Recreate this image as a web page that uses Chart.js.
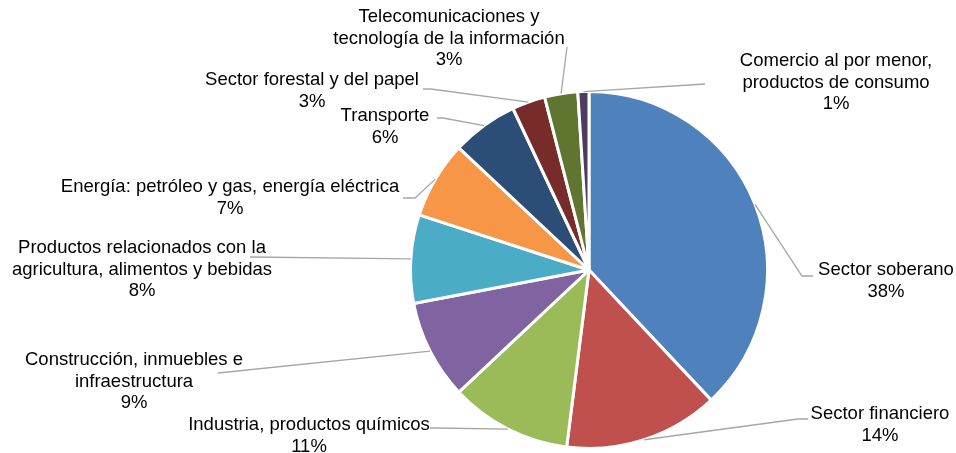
<!DOCTYPE html>
<html lang="es">
<head>
  <meta charset="UTF-8" />
  <title>Distribución por sector</title>
  <script src="https://cdn.jsdelivr.net/npm/chart.js"></script>
  <style>
    body {
      margin: 0;
      background: #fff;
    }
    #chart-container {
      width: 956px;
      height: 453px;
    }
  </style>
</head>
<body>
  <div id="chart-container">
    <canvas id="sectorChart"></canvas>
  </div>

  <script>
    // sectors, clockwise from 12 o'clock
    const sectors = [
      ['Sector soberano'],
      ['Sector financiero'],
      ['Industria, productos químicos'],
      ['Construcción, inmuebles e', 'infraestructura'],
      ['Productos relacionados con la', 'agricultura, alimentos y bebidas'],
      ['Energía: petróleo y gas, energía eléctrica'],
      ['Transporte'],
      ['Sector forestal y del papel'],
      ['Telecomunicaciones y', 'tecnología de la información'],
      ['Comercio al por menor,', 'productos de consumo']
    ];
    const shares = [38, 14, 11, 9, 8, 7, 6, 3, 3, 1];
    const colors = ['#4F81BD', '#C0504D', '#9BBB59', '#8064A2', '#4BACC6',
                    '#F79646', '#2C4D75', '#772C2A', '#5F7530', '#4D3B62'];

    // where each label sits (center x, first line y) and the bend of its leader line
    const labelPos = [
      { x: 886, y: 270, path: [[802, 276], [813, 276]] },
      { x: 880, y: 414, path: [[798, 419], [808, 419]] },
      { x: 309, y: 425, path: [[437, 428], [430, 428]] },
      { x: 134, y: 360, path: [[218, 373]] },
      { x: 142, y: 248, path: [[250, 257]] },
      { x: 230, y: 187, path: [[415, 198], [403, 198]] },
      { x: 385, y: 116, path: [[443, 118], [437, 118]] },
      { x: 312, y: 80,  path: [[431, 89], [423, 89]] },
      { x: 449, y: 17,  path: [[567, 47]] },
      { x: 836, y: 61,  path: [[705, 84]] }
    ];

    const total = shares.reduce((a, b) => a + b, 0);

    const leaderLabels = {
      id: 'leaderLabels',
      afterDatasetsDraw(chart) {
        const ctx = chart.ctx;
        const arcs = chart.getDatasetMeta(0).data;
        ctx.save();
        arcs.forEach((arc, i) => {
          const mid = (arc.startAngle + arc.endAngle) / 2;
          const sx = arc.x + Math.cos(mid) * arc.outerRadius;
          const sy = arc.y + Math.sin(mid) * arc.outerRadius;
          const pos = labelPos[i];

          ctx.strokeStyle = '#A6A6A6';
          ctx.lineWidth = 1.3;
          ctx.beginPath();
          ctx.moveTo(sx, sy);
          pos.path.forEach(p => ctx.lineTo(p[0], p[1]));
          ctx.stroke();

          const lines = sectors[i].concat(Math.round(shares[i] / total * 100) + '%');
          ctx.fillStyle = '#000';
          ctx.font = '18.5px "Liberation Sans", Arial, sans-serif';
          ctx.textAlign = 'center';
          ctx.textBaseline = 'middle';
          lines.forEach((t, k) => ctx.fillText(t, pos.x, pos.y + k * 21.5));
        });
        ctx.restore();
      }
    };

    new Chart(document.getElementById('sectorChart'), {
      type: 'pie',
      data: {
        labels: sectors.map(s => s.join(' ')),
        datasets: [{
          data: shares,
          backgroundColor: colors,
          borderColor: '#FFFFFF',
          borderWidth: 3,
          hoverOffset: 0
        }]
      },
      options: {
        responsive: true,
        maintainAspectRatio: false,
        animation: false,
        layout: { padding: { left: 409, right: 187, top: 90, bottom: 3 } },
        plugins: {
          legend: { display: false },
          tooltip: { enabled: false }
        }
      },
      plugins: [leaderLabels]
    });
  </script>
</body>
</html>
